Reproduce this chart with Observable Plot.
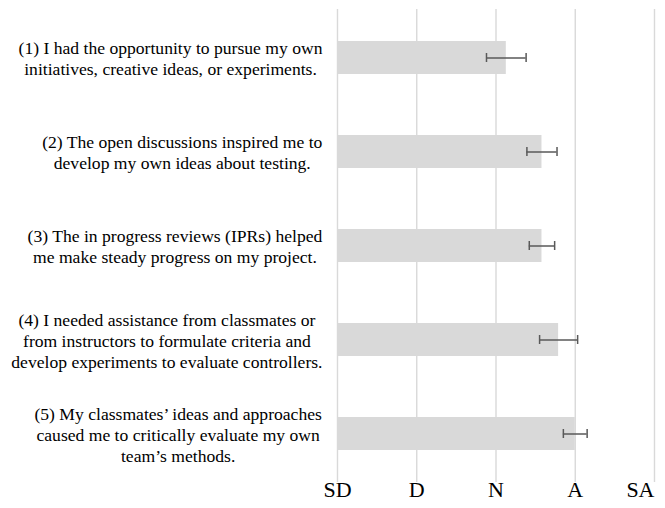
<!DOCTYPE html>
<html><head><meta charset="utf-8">
<script src="https://cdn.jsdelivr.net/npm/d3@7"></script>
<script src="https://cdn.jsdelivr.net/npm/@observablehq/plot@0.6"></script>
<style>body{margin:0;background:#fff} svg text{font-family:'Liberation Serif','Times New Roman',serif}</style>
</head><body><div id="chart"></div>
<script>
const statements = [
  "(1) I had the opportunity to pursue my own\ninitiatives, creative ideas, or experiments.",
  "(2) The open discussions inspired me to\ndevelop my own ideas about testing.",
  "(3) The in progress reviews (IPRs) helped\nme make steady progress on my project.",
  "(4) I needed assistance from classmates or\nfrom instructors to formulate criteria and\ndevelop experiments to evaluate controllers.",
  "(5) My classmates\u2019 ideas and approaches\ncaused me to critically evaluate my own\nteam\u2019s methods."
];
const means = [3.13, 3.58, 3.58, 3.79, 4.00];
const errors = [0.25, 0.19, 0.16, 0.24, 0.15];
const scaleValues = [1, 2, 3, 4, 5];
const scaleLabels = ["SD", "D", "N", "A", "SA"];

const FONT = "Liberation Serif";
const LABEL_SIZE = 17.6;
const data = statements.map((s, i) => ({s, mean: means[i], lo: means[i] - errors[i], hi: means[i] + errors[i]}));

const W = 665, H = 508, ML = 337;
const ctx = document.createElement("canvas").getContext("2d");
ctx.font = `${LABEL_SIZE}px 'Liberation Serif'`;
const labelMarks = statements.map(s => {
  const maxW = Math.max(...s.split("\n").map(l => ctx.measureText(l).width));
  const center = 322 - maxW / 2;
  return Plot.text([s], {
    y: d => d, text: d => d, frameAnchor: "left", textAnchor: "middle",
    lineAnchor: "middle", lineHeight: 1.2, dx: center - ML, fontSize: LABEL_SIZE,
    fontFamily: FONT, fill: "#000"
  });
});

const chart = Plot.plot({
  width: W, height: H,
  marginLeft: ML, marginRight: 11, marginTop: 9, marginBottom: 26,
  style: {fontFamily: FONT, fontSize: "16px", background: "#fff", color: "#000"},
  x: {domain: [1, 5], axis: null},
  y: {domain: statements, paddingInner: 0.65, paddingOuter: 0.325, axis: null},
  marks: [
    Plot.ruleX(scaleValues, {x: d => d, stroke: "#d9d9d9", strokeWidth: 1.4}),
    Plot.barX(data, {x1: 1, x2: "mean", y: "s", fill: "#d9d9d9"}),
    Plot.ruleY(data, {x1: "lo", x2: "hi", y: "s", stroke: "#595959", strokeWidth: 1.5}),
    Plot.tickX(data, {x: "lo", y: "s", insetTop: 12, insetBottom: 12, stroke: "#595959", strokeWidth: 1.5}),
    Plot.tickX(data, {x: "hi", y: "s", insetTop: 12, insetBottom: 12, stroke: "#595959", strokeWidth: 1.5}),
    ...labelMarks,
    Plot.text(scaleValues.slice(0, 4), {x: d => d, text: d => scaleLabels[d - 1], frameAnchor: "bottom",
      lineAnchor: "top", textAnchor: "middle", dy: -1, fontSize: 22, fontFamily: FONT, fill: "#000"}),
    Plot.text(scaleValues.slice(4), {x: d => d, text: d => scaleLabels[d - 1], frameAnchor: "bottom",
      lineAnchor: "top", textAnchor: "end", dy: -1, fontSize: 22, fontFamily: FONT, fill: "#000"})
  ]
});
document.getElementById("chart").appendChild(chart);
</script>
</body></html>
